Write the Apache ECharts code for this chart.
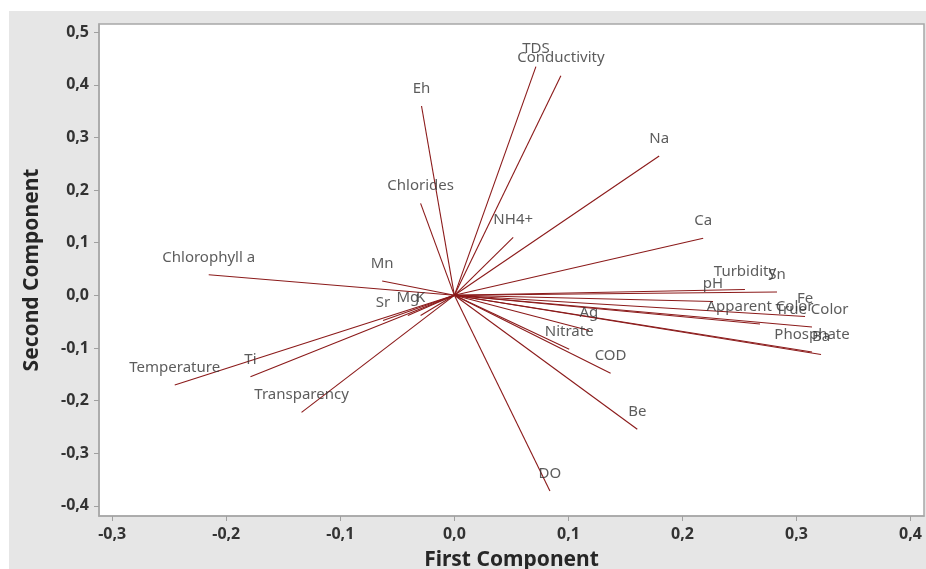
<!DOCTYPE html>
<html>
<head>
<meta charset="utf-8">
<script src="https://cdn.jsdelivr.net/npm/echarts@6/dist/echarts.min.js"></script>
<style>
  html, body { margin: 0; padding: 0; background: #fff; }
  #main { width: 926px; height: 569px; }
</style>
</head>
<body>
<div id="main"></div>
<script>
// loading plot: variable names and their loadings on the first two components
var variables = ['TDS', 'Conductivity', 'Eh', 'Chlorides', 'NH4+', 'Na', 'Ca', 'Mn',
    'Chlorophyll a', 'Turbidity', 'Sn', 'pH', 'Fe', 'Apparent Color', 'True Color',
    'Phosphate', 'Ba', 'Ag', 'Nitrate', 'COD', 'Be', 'DO', 'Temperature', 'Ti',
    'Transparency', 'Sr', 'Mg', 'K'];
var firstComp = [0.0715, 0.0934, -0.0288, -0.0296, 0.0516, 0.1796, 0.2182, -0.0633,
    -0.2154, 0.2548, 0.2829, 0.2268, 0.3075, 0.2680, 0.3136,
    0.3136, 0.3215, 0.1180, 0.1007, 0.1370, 0.1604, 0.0838, -0.2452, -0.1788,
    -0.1340, -0.0625, -0.0408, -0.0296];
var secondComp = [0.4344, 0.4173, 0.3597, 0.1748, 0.1102, 0.2647, 0.1083, 0.0272,
    0.0391, 0.0110, 0.0063, -0.0118, -0.0403, -0.0545, -0.0602,
    -0.1077, -0.1125, -0.0669, -0.1026, -0.1482, -0.2546, -0.3718, -0.1704, -0.1547,
    -0.2223, -0.0479, -0.0384, -0.0384];
var xTicks = [-0.3, -0.2, -0.1, 0.0, 0.1, 0.2, 0.3, 0.4];
var yTicks = [-0.4, -0.3, -0.2, -0.1, 0.0, 0.1, 0.2, 0.3, 0.4, 0.5];

var chart = echarts.init(document.getElementById('main'));

function commaFmt(v) {
    return v.toFixed(1).replace('.', ',');
}

var vectors = variables.map(function (n, i) {
    return { name: n, coords: [[0, 0], [firstComp[i], secondComp[i]]] };
});
var ends = variables.map(function (n, i) {
    return { name: n, value: [firstComp[i], secondComp[i]] };
});

var font = 'Noto Sans';

var option = {
    animation: false,
    graphic: [{
        type: 'rect',
        z: -10,
        shape: { x: 9, y: 11, width: 917, height: 558 },
        style: { fill: '#e6e6e6' }
    }],
    grid: {
        left: 99, top: 24, right: 2, bottom: 53,
        outerBoundsMode: 'none',
        containLabel: false,
        show: true,
        backgroundColor: '#fff',
        borderColor: '#a8a8a8',
        borderWidth: 1.5
    },
    xAxis: {
        type: 'value',
        min: -0.3116, max: 0.4118,
        name: 'First Component',
        nameLocation: 'middle',
        nameGap: 34,
        nameTextStyle: { fontFamily: font, fontSize: 21, fontWeight: 'bold', color: '#262626' },
        splitLine: { show: false },
        axisLine: { show: true, onZero: false, lineStyle: { color: '#a8a8a8', width: 1.5 } },
        axisTick: { show: true, length: 5, customValues: xTicks, lineStyle: { color: '#a0a0a0' } },
        axisLabel: {
            customValues: xTicks, margin: 10,
            fontFamily: font, fontSize: 16, fontWeight: 'bold', color: '#333',
            formatter: commaFmt
        }
    },
    yAxis: {
        type: 'value',
        min: -0.4193, max: 0.5155,
        name: 'Second Component',
        nameLocation: 'middle',
        nameGap: 56,
        nameTextStyle: { fontFamily: font, fontSize: 21, fontWeight: 'bold', color: '#262626' },
        splitLine: { show: false },
        axisLine: { show: true, onZero: false, lineStyle: { color: '#a8a8a8', width: 1.5 } },
        axisTick: { show: true, length: 5, customValues: yTicks, lineStyle: { color: '#a0a0a0' } },
        axisLabel: {
            customValues: yTicks, margin: 10,
            fontFamily: font, fontSize: 16, fontWeight: 'bold', color: '#333',
            formatter: commaFmt
        }
    },
    series: [
        {
            type: 'lines',
            coordinateSystem: 'cartesian2d',
            silent: true,
            lineStyle: { color: '#8b1a1a', width: 1.1, opacity: 1 },
            data: vectors
        },
        {
            type: 'scatter',
            symbolSize: 0,
            silent: true,
            label: {
                show: true,
                position: 'top',
                distance: 10,
                formatter: '{b}',
                fontFamily: font,
                fontSize: 15,
                color: '#333'
            },
            data: ends
        }
    ]
};

chart.setOption(option);
</script>
</body>
</html>
